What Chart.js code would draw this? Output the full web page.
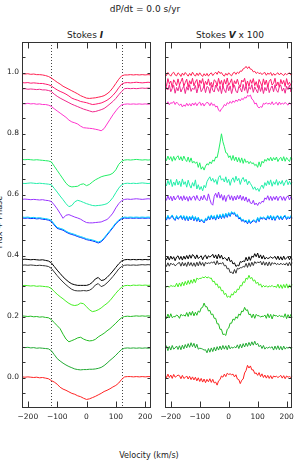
<!DOCTYPE html>
<html>
<head>
<meta charset="utf-8">
<script src="https://cdn.jsdelivr.net/npm/chart.js@4.4.1/dist/chart.umd.min.js"></script>
<style>
  body { margin: 0; background: #fff; width: 299px; height: 466px; overflow: hidden; position: relative;
         font-family: "DejaVu Sans", sans-serif; color: #222; }
  canvas { position: absolute; top: 0; }
  .t { position: absolute; white-space: nowrap; line-height: 1; transform: translateX(-50%); }
  .t b { font-style: italic; }
</style>
</head>
<body>
<div class="t" style="left:145px; top:5px; font-size:9px;">dP/dt = 0.0 s/yr</div>
<div class="t" style="left:85px; top:31px; font-size:9px;">Stokes <b>I</b></div>
<div class="t" style="left:230px; top:31px; font-size:9px;">Stokes <b>V</b> x 100</div>
<div class="t" style="left:149px; top:452px; font-size:8px;">Velocity (km/s)</div>
<div class="t" style="left:0px; top:222px; font-size:8px; transform: translate(-50%,-50%) rotate(-90deg);">Flux + Phase</div>
<canvas id="left" width="160" height="466" style="left:0"></canvas>
<canvas id="right" width="149" height="466" style="left:150px"></canvas>
<script>
// velocity grids (km/s)
const velI = [-220,-210,-200,-190,-180,-170,-160,-150,-140,-130,
  -120,-110,-100,-90,-80,-70,-60,-50,-40,-30,
  -20,-10,0,10,20,30,40,50,60,70,
  80,90,100,110,120,130,140,150,160,170,
  180,190,200,210,220];
const velV = [-220,-215,-210,-205,-200,-195,-190,-185,-180,-175,
  -170,-165,-160,-155,-150,-145,-140,-135,-130,-125,
  -120,-115,-110,-105,-100,-95,-90,-85,-80,-75,
  -70,-65,-60,-55,-50,-45,-40,-35,-30,-25,
  -20,-15,-10,-5,0,5,10,15,20,25,
  30,35,40,45,50,55,60,65,70,75,
  80,85,90,95,100,105,110,115,120,125,
  130,135,140,145,150,155,160,165,170,175,
  180,185,190,195,200,205,210,215,220];

// offsets of each spectrum (phase), top to bottom; cyan and blue share a profile
const phase  = [0.992,0.966,0.946,0.896,0.713,0.636,0.584,0.525,0.522,0.386,0.368,0.300,0.200,0.097,0.000];
const colour = ['#ff2050','#ff1a70','#f0288c','#ff33cc','#22ee66','#22eeaa','#9933ff','#00ccff','#0022ff',
                '#000000','#333333','#44ee22','#22bb22','#22aa33','#ff2222'];

// Stokes I, thousandths relative to the offset
const I1  = [4,3,4,2,3,1,1,0,-2,-5, -10,-17,-24,-30,-37,-42,-47,-52,-57,-62, -68,-72,-76,-77,-76,-75,-73,-71,-68,-62, -54,-42,-28,-14,-3,0,0,1,0,1, 0,1,0,1,0];
const I2  = [1,0,1,-1,0,-1,-2,-2,-4,-6, -10,-17,-23,-28,-32,-37,-43,-50,-54,-57, -61,-63,-65,-68,-71,-70,-68,-66,-62,-57, -50,-41,-30,-16,-4,0,1,0,1,2, 1,0,1,2,1];
const I3  = [0,1,-1,0,-1,-2,-1,-3,-3,-5, -8,-17,-24,-30,-35,-40,-45,-50,-54,-58, -62,-66,-69,-72,-75,-74,-71,-68,-64,-57, -49,-41,-31,-19,-8,1,2,1,2,1, 2,3,2,3,2];
const I4  = [2,1,3,1,2,0,1,-1,-1,-3, -7,-15,-22,-29,-36,-43,-52,-58,-61,-65, -72,-77,-78,-79,-80,-82,-84,-87,-80,-65, -50,-35,-22,-10,-2,0,1,0,1,0, 1,0,1,0,1];
const I5  = [2,1,2,1,0,1,0,-1,-2,-3, -6,-20,-34,-48,-62,-76,-85,-88,-87,-86, -80,-78,-84,-80,-72,-65,-60,-55,-52,-50, -48,-43,-32,-14,-4,0,1,0,1,2, 1,0,1,0,1];
const I6  = [1,0,1,2,1,0,1,0,-1,-2, -4,-16,-28,-41,-53,-66,-76,-72,-60,-55, -58,-62,-66,-69,-72,-73,-72,-71,-69,-66, -58,-46,-30,-15,-4,0,1,0,1,0, 1,2,1,0,1];
const I7  = [0,1,0,-1,0,-1,-2,-1,-3,-4, -7,-18,-31,-46,-62,-52,-50,-54,-58,-61, -65,-71,-76,-77,-77,-76,-75,-74,-70,-66, -57,-45,-28,-14,-4,0,1,0,1,2, 1,0,1,2,1];
const I8  = [1,0,1,-1,0,-2,-1,-3,-4,-6, -10,-22,-33,-36,-39,-45,-50,-53,-56,-60, -63,-66,-70,-72,-74,-77,-81,-77,-67,-55, -43,-31,-18,-9,-2,1,0,1,0,1, 0,1,0,1,0];
const I9  = [1,2,1,0,1,0,-1,0,-2,-4, -10,-22,-34,-45,-56,-65,-73,-79,-82,-84, -84,-84,-84,-81,-74,-63,-58,-68,-66,-58, -48,-37,-25,-13,-4,0,1,0,1,0, 1,0,1,0,1];
const I10 = [0,1,0,1,0,-1,0,-1,-2,-4, -10,-22,-34,-45,-55,-64,-72,-79,-83,-84, -84,-83,-84,-82,-76,-65,-60,-70,-66,-58, -48,-37,-25,-12,-4,0,1,0,1,0, 1,2,1,2,1];
const I11 = [1,2,1,0,1,-1,0,-1,-2,-3, -8,-18,-27,-35,-42,-50,-57,-62,-64,-62, -56,-58,-68,-78,-84,-82,-78,-72,-64,-57, -48,-36,-24,-13,-4,1,2,1,3,2, 3,2,3,2,3];
const I12 = [2,1,0,1,-1,0,-2,-1,-3,-4, -10,-20,-30,-40,-58,-74,-83,-79,-75,-70, -68,-74,-78,-80,-79,-75,-67,-61,-55,-47, -40,-31,-22,-12,-4,0,1,0,1,2, 1,2,1,2,1];
const I13 = [2,1,2,0,1,-1,0,-1,-2,-3, -9,-22,-35,-43,-50,-56,-61,-65,-69,-71, -72,-71,-71,-70,-70,-69,-67,-64,-58,-50, -41,-33,-24,-14,-5,-1,0,-1,0,-1, 0,-1,0,-1,0];
const I14 = [2,1,2,1,0,1,-1,0,-2,-4, -10,-15,-22,-32,-38,-42,-47,-52,-55,-60, -63,-68,-72,-70,-66,-62,-57,-52,-46,-42, -37,-31,-26,-18,-6,2,3,3,2,3, 2,3,2,3,3];

// Stokes V x 100, thousandths relative to the offset
const V1 = [6,-2,8,1,-4,5,9,0,-3,7, 3,-5,6,-1,8,2,-4,5,-2,9, 1,-4,6,-2,7,0,-5,4,-3,5, -4,3,7,-2,4,9,2,12,5,8,
  0,-4,5,-1,7,1,-3,6,9,2, 9,5,13,12,20,22,28,21,27,19, 18,10,12,5,9,4,7,1,6,8, -1,6,2,8,-2,5,-1,4,7,0, 6,2,-2,5,1,4,7,0,3];
const V2 = [8,-12,14,-3,6,-15,10,2,-9,13, -7,4,16,-11,1,12,-14,7,-4,15, -10,3,11,-16,9,-2,14,-12,5,-6, 13,-9,2,-14,10,6,-11,15,-5,8,
  -13,11,-4,16,-8,1,13,-15,7,-3, 12,-6,-14,9,3,15,-10,6,-12,10, -2,14,-9,4,-15,11,0,-11,13,-6, 9,-13,5,12,-7,-1,15,-10,3,-14, 11,-4,8,-12,14,-6,2,-9,7];
const V3 = [-11,6,-3,14,-9,2,12,-14,5,-6, 13,-10,1,9,-15,7,-4,14,-8,3, -2,11,-13,6,15,-9,-1,10,-12,8, 5,-14,12,-4,-10,13,3,-8,11,-15,
  9,-3,-12,14,-6,10,-15,4,12,-7, -13,8,2,-10,15,-5,11,-14,6,-1, 14,-11,7,-3,-13,12,-8,9,-15,5, -6,13,-12,2,10,-9,14,-4,-11,8, 12,-7,3,-14,9,-2,13,-10,4];
const V4 = [6,1,8,-2,5,3,9,-1,7,2, -4,1,-9,-2,-7,3,-5,2,-6,4, -3,5,-5,3,7,-4,4,-6,2,6, 4,-5,5,-4,0,-9,-6,-19,-24,-15,
  -11,-1,-5,5,1,9,3,11,6,14, 9,17,11,19,15,23,20,29,26,30, 17,13,1,4,-8,-12,-8,-10,3,0, 5,0,4,-1,8,-2,3,6,-3,7, -1,4,0,6,1,-3,5,-1,3];
const V5 = [10,-2,13,1,11,-4,12,-1,9,14, 0,11,-3,13,2,-5,10,-7,7,-10, -4,-11,-6,-24,-9,-30,-22,-33,-20,-12, -16,-6,-12,0,-4,10,8,30,56,86,
  60,44,24,22,8,14,-1,15,-2,10, -6,8,-8,7,-11,4,-8,-3,-12,-5, -12,-9,-18,-14,-24,-6,-22,-4,-10,2, -4,6,-2,9,-3,8,0,10,-5,4, 9,-3,11,-4,8,1,-5,10,2];
const V6 = [3,-8,10,-4,13,-10,5,-6,14,-5, 8,-10,15,-3,6,-12,11,-5,-15,3, -9,12,-18,-4,-20,-10,-24,-6,-14,6, 15,22,8,17,4,13,-3,20,26,11,
  16,5,22,3,14,-6,12,19,4,24, 9,17,-3,13,20,6,14,-4,8,0, -8,-19,-11,-22,-16,-26,-13,-5,-16,3, -7,9,-4,12,-9,6,-3,13,-6,7, -2,10,-7,4,12,-4,7,-3,5];
const V7 = [9,-3,12,-1,10,-5,11,-2,6,13, -1,10,-4,12,-2,9,-6,10,-3,8, 11,-3,13,0,-5,10,-2,14,1,-4, 18,0,-14,-19,10,20,6,24,4,16,
  -3,13,-7,10,15,-1,12,-4,11,-2, 13,1,14,-3,10,-5,8,-9,2,-12, -14,-3,-18,-12,-20,-10,-14,-6,-9,5, 0,12,-3,10,-4,9,-1,11,-4,8, 10,-3,9,-4,8,11,-2,9,-1];
const V8 = [5,-6,7,-3,2,8,-2,-7,6,-3, 1,7,-4,6,-7,5,-8,4,-5,6, -8,3,-10,1,-12,-6,-9,-15,-3,-7, 5,-5,8,-3,6,-6,9,-2,10,-1,
  12,0,14,3,16,6,19,13,17,6, 10,-2,1,-10,-6,-13,-9,-18,-7,-17, -13,-8,-10,-14,0,-11,2,-3,1,-2, -5,6,-3,7,-6,5,-7,4,6,-4, 5,-5,4,7,-4,3,-2,6,-1];
const V9 = [9,0,10,-1,12,2,10,-3,9,13, 1,11,-1,12,2,14,3,16,5,17, 13,3,16,4,9,13,0,11,15,3, 13,9,12,18,6,16,3,18,5,15,
  2,7,4,-3,9,-6,-2,-14,-10,-22, -18,-20,-6,-8,-4,-6,8,-4,10,-2, 12,8,20,10,22,6,16,3,14,2, 8,4,6,10,5,7,11,1,12,0, 10,-1,12,1,6,11,0,10,-1];
const V10 = [6,-4,8,-3,7,2,5,-2,2,7, 9,-3,10,-2,8,-4,11,-1,9,-3, 8,-4,10,-2,12,0,9,-3,10,5, 8,6,10,8,12,1,15,3,7,5,
  9,-2,0,-12,-10,-24,-22,-28,-14,-26, -10,-12,-8,-8,-4,-6,6,-7,8,-4, 10,-1,12,6,11,8,13,1,12,0, 10,-2,11,-1,9,4,8,2,6,1, 7,2,5,1,8,-2,10,-1,9];
const V11 = [1,-3,-1,-4,2,-1,0,-2,9,-3, 10,-1,13,1,15,4,18,6,20,9, 23,11,26,22,25,25,29,27,31,26, 30,25,26,14,16,4,7,-6,-2,-16,
  -14,-28,-24,-37,-33,-38,-26,-30,-18,-22, -10,-12,2,0,14,11,26,22,35,24, 28,16,20,8,13,2,7,-4,2,-3, 1,-4,0,-2,2,-3,-1,-5,6,-7, 4,-8,5,-6,7,-7,4,-5,6];
const V12 = [6,-7,8,-5,9,-4,0,-1,5,2, -6,7,3,5,1,13,0,15,4,17, 2,14,4,18,14,28,30,44,32,32, 18,20,6,8,-6,-6,-24,-24,-42,-42,
  -59,-58,-62,-42,-38,-22,-22,-8,-12,-1, -6,8,4,18,16,30,20,22,6,8, -4,8,-6,7,2,3,-2,1,0,5, -6,9,-4,7,-8,6,2,3,-1,4, 0,2,-3,9,-7,6,-4,7,-5];
const V13 = [-6,7,-9,5,-7,8,-4,0,6,-5, 7,-6,9,-3,11,0,14,2,17,4, 15,0,12,-4,-1,-2,-4,-7,-6,-16, -2,-14,0,-12,2,-10,4,-7,6,-6,
  8,-4,7,-6,9,-3,3,-1,4,0, 10,-2,12,0,14,3,16,5,18,7, 20,9,22,10,15,4,9,-2,8,-4, 2,-1,3,0,4,-7,6,-5,7,-6, 5,-7,6,-4,2,-1,3,-3,2];
const V14 = [9,-1,11,0,8,-3,10,1,4,8, 6,-4,7,-3,0,5,-5,4,-7,2, -8,1,-11,-1,-13,-3,-15,-5,-17,-6, -14,-4,-16,-6,-18,-15,-25,-11,-7,5,
  1,11,3,14,10,12,9,11,2,9, -5,-7,-20,-9,-5,15,23,40,31,38, 25,25,13,15,7,16,3,12,0,8, -2,7,-3,6,-4,5,2,4,0,3, 7,-2,6,-4,5,1,3,0,4];

const profI = [I1,I2,I3,I4,I5,I6,I7,I8,I8,I9,I10,I11,I12,I13,I14];
const profV = [V1,V2,V3,V4,V5,V6,V7,V8,V8,V9,V10,V11,V12,V13,V14];

// axes
const xTicks = [-200,-100,0,100,200];
const yTicks = [0.0,0.2,0.4,0.6,0.8,1.0];
const yMinor = [-0.05,0,0.05,0.1,0.15,0.2,0.25,0.3,0.35,0.4,0.45,0.5,0.55,0.6,0.65,0.7,0.75,0.8,0.85,0.9,0.95,1.0,1.05];
const dotV = [-120,120];

function makeSets(vel, profs) {
  return profs.map((p, k) => ({
    data: vel.map((v, i) => ({ x: v, y: phase[k] + p[i] / 1000 })),
    borderColor: colour[k], borderWidth: 1, pointRadius: 0, tension: 0, fill: false
  }));
}

const frame = {
  id: 'frame',
  beforeDatasetsDraw(chart, args, opts) {
    const { ctx, chartArea: c, scales: { x } } = chart;
    ctx.save();
    ctx.strokeStyle = '#444'; ctx.lineWidth = 1; ctx.setLineDash([1, 2]);
    (opts.dots || []).forEach(v => {
      const px = Math.round(x.getPixelForValue(v)) + 0.5;
      ctx.beginPath(); ctx.moveTo(px, c.top); ctx.lineTo(px, c.bottom); ctx.stroke();
    });
    ctx.restore();
  },
  afterDatasetsDraw(chart) {
    const { ctx, chartArea: c, scales: { x, y } } = chart;
    ctx.save();
    ctx.strokeStyle = '#333'; ctx.lineWidth = 1;
    const L = Math.round(c.left) + 0.5, R = Math.round(c.right) - 0.5;
    const T = Math.round(c.top) + 0.5, B = Math.round(c.bottom) - 0.5;
    ctx.strokeRect(L, T, R - L, B - T);
    ctx.beginPath();
    xTicks.forEach(v => {
      const px = Math.round(x.getPixelForValue(v)) + 0.5;
      ctx.moveTo(px, T); ctx.lineTo(px, T + 6);
      ctx.moveTo(px, B); ctx.lineTo(px, B - 6);
    });
    yMinor.forEach(v => {
      const py = Math.round(y.getPixelForValue(v)) + 0.5;
      ctx.moveTo(L, py); ctx.lineTo(L + 3, py);
      ctx.moveTo(R, py); ctx.lineTo(R - 3, py);
    });
    ctx.stroke();
    ctx.restore();
  }
};

function makeChart(id, sets, yWidth, padRight, showY, dots) {
  return new Chart(document.getElementById(id), {
    type: 'line',
    data: { datasets: sets },
    plugins: [frame],
    options: {
      responsive: false, animation: false, events: [],
      layout: { padding: { top: 42, right: padRight, left: 0, bottom: 0 } },
      plugins: { legend: { display: false }, tooltip: { enabled: false }, frame: { dots: dots } },
      scales: {
        x: {
          type: 'linear', min: -220, max: 220,
          afterBuildTicks: s => { s.ticks = xTicks.map(v => ({ value: v })); },
          afterFit: s => { s.height = 58; },
          grid: { display: false, drawTicks: false }, border: { display: false },
          ticks: {
            autoSkip: false, maxRotation: 0, padding: 5, color: '#222',
            font: { family: 'DejaVu Sans', size: 7.5 },
            callback: v => (v < 0 ? '\u2212' + (-v) : '' + v)
          }
        },
        y: {
          type: 'linear', min: -0.1, max: 1.1,
          afterBuildTicks: s => { s.ticks = yTicks.map(v => ({ value: v })); },
          afterFit: s => { s.width = yWidth; },
          grid: { display: false, drawTicks: false }, border: { display: false },
          ticks: {
            display: showY, padding: 3, color: '#222',
            font: { family: 'DejaVu Sans', size: 7.5 },
            callback: v => v.toFixed(1)
          }
        }
      }
    }
  });
}

makeChart('left', makeSets(velI, profI), 22, 9, true, dotV);
makeChart('right', makeSets(velV, profV), 15, 5.5, false, []);
</script>
</body>
</html>
